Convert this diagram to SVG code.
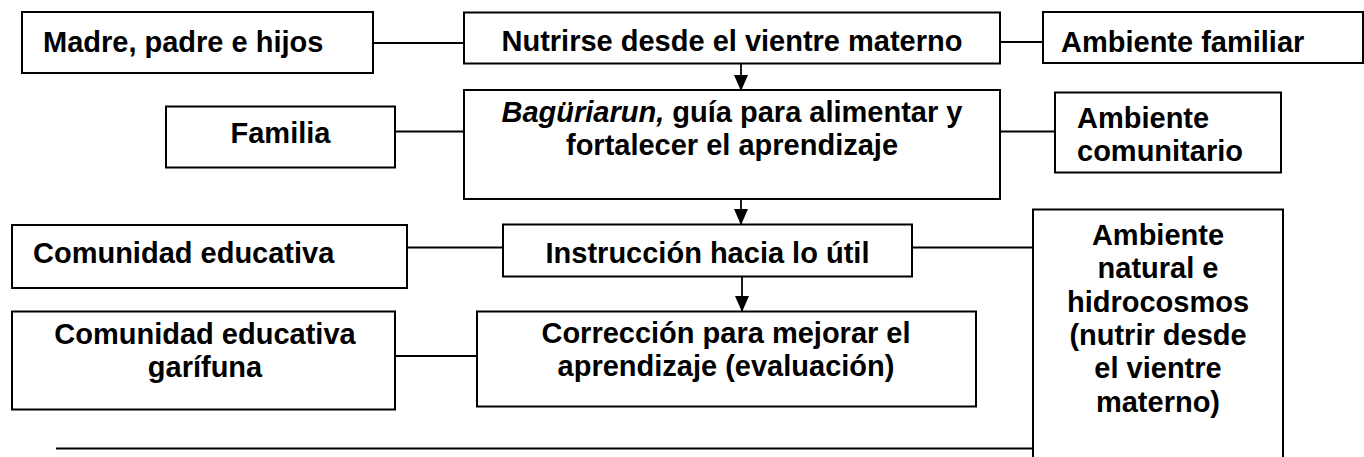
<svg xmlns="http://www.w3.org/2000/svg" width="1364" height="457" viewBox="0 0 1364 457">
<style>
rect{fill:#fff;stroke:#000;stroke-width:2}
text{font-family:"Liberation Sans",Arial,sans-serif;font-weight:bold;font-size:29px;fill:#000}
.c{text-anchor:middle}
.ln{stroke:#000;stroke-width:1.8;fill:none}
</style>
<defs>
<marker id="ah" viewBox="0 0 16 14" refX="16" refY="7" markerWidth="16" markerHeight="14" markerUnits="userSpaceOnUse" orient="auto">
<path d="M0,0 L16,7 L0,14 Z" fill="#000"/>
</marker>
</defs>
<g id="connectors">
<line class="ln" x1="373" y1="43" x2="464" y2="43"/>
<line class="ln" x1="1000" y1="42" x2="1043" y2="42"/>
<line class="ln" x1="395" y1="131.5" x2="464" y2="131.5"/>
<line class="ln" x1="1000" y1="131.5" x2="1055" y2="131.5"/>
<line class="ln" x1="407" y1="247.5" x2="503" y2="247.5"/>
<line class="ln" x1="912" y1="247.5" x2="1033" y2="247.5"/>
<line class="ln" x1="395" y1="356" x2="477" y2="356"/>
<line x1="56" y1="448.5" x2="1033" y2="448.5" stroke="#000" stroke-width="2.2"/>
<line class="ln" x1="741" y1="63" x2="741" y2="91" marker-end="url(#ah)" stroke-width="2"/>
<line class="ln" x1="741" y1="190" x2="741" y2="225" marker-end="url(#ah)" stroke-width="2"/>
<line class="ln" x1="742" y1="276" x2="742" y2="312" marker-end="url(#ah)" stroke-width="2"/>
</g>
<g id="n-madre">
<rect x="22" y="12" width="351" height="61"/>
<text x="43" y="52">Madre, padre e hijos</text>
</g>
<g id="n-nutrirse">
<rect x="464" y="12.5" width="536" height="51"/>
<text class="c" x="732" y="51">Nutrirse desde el vientre materno</text>
</g>
<g id="n-familiar">
<rect x="1043" y="12" width="320" height="51"/>
<text x="1061" y="52">Ambiente familiar</text>
</g>
<g id="n-familia">
<rect x="166" y="106.5" width="229" height="61"/>
<text class="c" x="280.5" y="143">Familia</text>
</g>
<g id="n-baguriarun">
<rect x="464" y="90" width="536" height="109"/>
<text class="c" x="732" y="122"><tspan font-style="italic">Bagüriarun,</tspan> guía para alimentar y</text>
<text class="c" x="732" y="155">fortalecer el aprendizaje</text>
</g>
<g id="n-comunitario">
<rect x="1055" y="92.5" width="226" height="80"/>
<text x="1077" y="128">Ambiente</text>
<text x="1077" y="161">comunitario</text>
</g>
<g id="n-comunidad">
<rect x="12" y="225" width="395" height="63"/>
<text x="33" y="263">Comunidad educativa</text>
</g>
<g id="n-instruccion">
<rect x="503" y="224.5" width="409" height="52"/>
<text class="c" x="707.5" y="263">Instrucción hacia lo útil</text>
</g>
<g id="n-natural">
<rect x="1033" y="209.5" width="250" height="260"/>
<text class="c" x="1158" y="245">Ambiente</text>
<text class="c" x="1158" y="278.3">natural e</text>
<text class="c" x="1158" y="311.7">hidrocosmos</text>
<text class="c" x="1158" y="345">(nutrir desde</text>
<text class="c" x="1158" y="378.3">el vientre</text>
<text class="c" x="1158" y="411.7">materno)</text>
</g>
<g id="n-garifuna">
<rect x="12" y="311.5" width="383" height="98"/>
<text class="c" x="205" y="344">Comunidad educativa</text>
<text class="c" x="205" y="377">garífuna</text>
</g>
<g id="n-correccion">
<rect x="477" y="311.5" width="499" height="95"/>
<text class="c" x="726" y="343">Corrección para mejorar el</text>
<text class="c" x="726" y="376">aprendizaje (evaluación)</text>
</g>
</svg>
